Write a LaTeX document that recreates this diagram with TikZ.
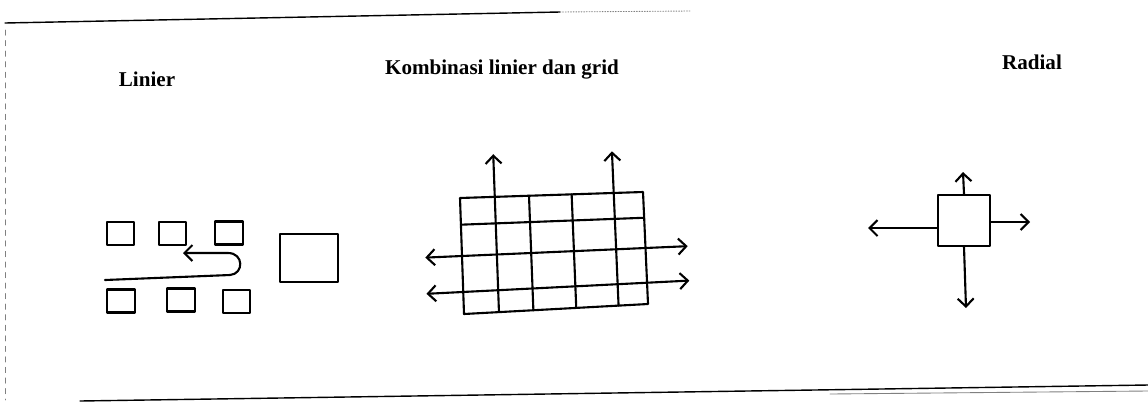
\documentclass[tikz,border=0pt]{standalone}
\usepackage{fontspec}
\setmainfont{Liberation Serif}
\usetikzlibrary{calc}
\usetikzlibrary{arrows.meta}
\tikzstyle{every node}=[font=\bfseries\fontsize{12}{14}\selectfont]
\tikzstyle{every path}=[line width=1.2pt,line cap=round,line join=round]

\begin{document}
\begin{tikzpicture}[x=0.02cm,y=-0.02cm]
		\tikzstyle{arrow} = [-{Straight Barb[length=1.6mm, width=3.2mm]}]
		\tikzstyle{room} = [draw, inner sep=0pt, minimum width=0.55cm, minimum height=0.46cm]
		\useasboundingbox (0,0) rectangle (1148,403);
		
		% frame of the scanned page
		\draw[line width=0.8pt] (5,23) -- (560,12);
		\draw[line width=0.5pt, gray, densely dotted] (560,12) -- (690,11);
		\draw[line width=0.4pt, gray, dashed] (5,30) -- (5,400);
		\draw[line width=0.8pt] (80,401) -- (1148,385);
		\draw[line width=0.5pt, gray] (830,394) -- (1148,391);
		
		% titles
		\node (tlinier) at (147,79) {Linier};
		\node (tkomb) at (502,70) {Kombinasi linier dan grid};
		\node (tradial) at (1032,62) {Radial};
		
		% linier
		\node[room] (r1) at (120.5,233.5) {};
		\node[room] (r2) at (172.5,233.5) {};
		\node[room] (r3) at (229,233) {};
		\node[room] (r4) at (121,301) {};
		\node[room] (r5) at (181,300) {};
		\node[room] (r6) at (236.5,301.5) {};
		\node[draw, inner sep=0pt, minimum width=1.16cm, minimum height=0.96cm] (hall) at (309,258) {};
		
		\coordinate (lstart) at (105,280);
		\coordinate (lturn) at (230,275);
		\coordinate (lend) at (183,253);
		\draw[arrow] (lstart) -- (lturn) .. controls (244,274) and (244,253) .. (228,253) -- (lend);
		
		% kombinasi linier dan grid
		\coordinate (tl) at (460,198);
		\coordinate (tr) at (643,192);
		\coordinate (br) at (648,304);
		\coordinate (bl) at (464,314);
		\draw (tl) -- (tr) -- (br) -- (bl) -- cycle;
		\foreach \t in {0.23} {
			\draw ($(tl)!\t!(bl)$) -- ($(tr)!\t!(br)$);
		}
		\foreach \t in {0.5,0.81} {
			\draw[arrow] ($(tl)!\t!(bl)$) -- ($($(tl)!\t!(bl)$)!-0.2!($(tr)!\t!(br)$)$);
			\draw[arrow] ($(tl)!\t!(bl)$) -- ($($(tl)!\t!(bl)$)!1.23!($(tr)!\t!(br)$)$);
		}
		\foreach \t in {0.377,0.61} {
			\draw ($(tl)!\t!(tr)$) -- ($(bl)!\t!(br)$);
		}
		\foreach \t in {0.19,0.84} {
			\draw[arrow] ($(bl)!\t!(br)$) -- ($($(bl)!\t!(br)$)!1.37!($(tl)!\t!(tr)$)$);
		}
		
		% radial
		\node[draw, inner sep=0pt, minimum width=1.04cm, minimum height=1.02cm] (core) at (964,220.5) {};
		\coordinate (rn) at (963,172);
		\coordinate (rw) at (868,228);
		\coordinate (re) at (1030,222);
		\coordinate (rs) at (966,308);
		\draw[arrow] (core.north) -- (rn);
		\draw[arrow] (core.west |- rw) -- (rw);
		\draw[arrow] (core.east |- re) -- (re);
		\draw[arrow] (core.south) -- (rs);
		
	\end{tikzpicture}
\end{document}
